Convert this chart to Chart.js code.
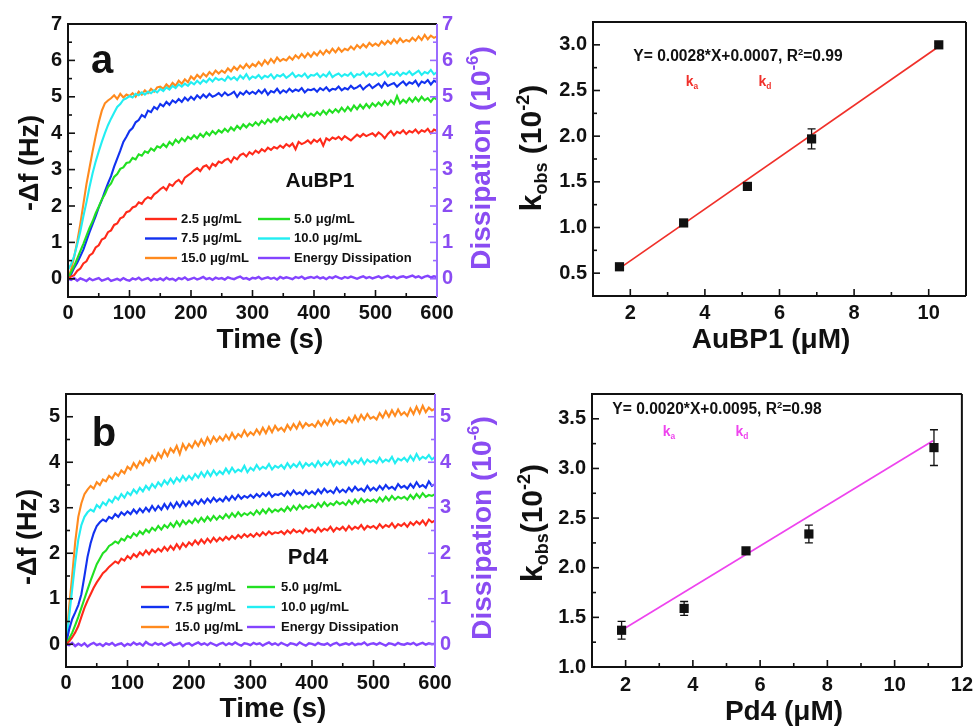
<!DOCTYPE html>
<html>
<head>
<meta charset="utf-8">
<script src="https://cdn.jsdelivr.net/npm/chart.js@4.4.0/dist/chart.umd.min.js"></script>
<style>
  body { margin: 0; background: #fff; width: 979px; height: 726px; overflow: hidden; position: relative; }
  canvas { position: absolute; }
</style>
</head>
<body>
<canvas id="kinA" width="500" height="360" style="left:0;top:0"></canvas>
<canvas id="kinB" width="500" height="356" style="left:0;top:370px"></canvas>
<canvas id="rateA" width="489" height="360" style="left:490px;top:0"></canvas>
<canvas id="rateB" width="489" height="356" style="left:490px;top:370px"></canvas>
<script>
// === Dados ===
const TIME_STEP = 5; // s, grade de amostragem (0..600)
const times = Array.from({length: 121}, (_, i) => i * TIME_STEP);

const concLabels = ["2.5 μg/mL", "5.0 μg/mL", "7.5 μg/mL", "10.0 μg/mL", "15.0 μg/mL", "Energy Dissipation"];
const timeTicks = [0, 100, 200, 300, 400, 500, 600];
const dfTicksA = [0, 1, 2, 3, 4, 5, 6, 7];
const dfTicksB = [0, 1, 2, 3, 4, 5];

// painel a (AuBP1), -Δf em Hz, a cada 5 s
const redA = [
  0.00,0.06,0.10,0.22,0.28,0.42,0.48,0.64,0.70,0.86,
  0.92,1.08,1.12,1.28,1.33,1.48,1.52,1.66,1.70,1.83,
  1.86,1.96,1.99,2.10,2.06,2.18,2.24,2.20,2.32,2.38,
  2.46,2.52,2.44,2.60,2.55,2.66,2.72,2.62,2.78,2.84,
  2.90,2.98,3.04,2.96,3.08,3.12,3.02,3.16,3.10,3.22,
  3.18,3.26,3.30,3.20,3.34,3.28,3.40,3.44,3.36,3.48,
  3.42,3.52,3.46,3.56,3.50,3.60,3.54,3.62,3.58,3.66,
  3.60,3.70,3.64,3.72,3.56,3.76,3.70,3.74,3.80,3.72,
  3.82,3.76,3.84,3.66,3.86,3.80,3.88,3.84,3.90,3.82,
  3.92,3.86,3.80,3.88,3.96,3.90,3.98,3.92,3.96,4.00,
  3.92,4.02,3.96,3.86,3.98,4.06,3.94,4.04,4.00,4.08,
  3.98,4.06,4.02,4.10,4.00,4.08,4.04,4.12,4.00,4.10,
  4.06];
const greenA = [
  0.00,0.18,0.35,0.55,0.76,0.96,1.18,1.40,1.58,1.80,
  1.98,2.18,2.32,2.52,2.62,2.80,2.88,3.02,3.06,3.18,
  3.20,3.32,3.28,3.42,3.38,3.50,3.46,3.58,3.52,3.64,
  3.60,3.70,3.62,3.76,3.68,3.82,3.74,3.86,3.78,3.90,
  3.84,3.94,3.86,3.98,3.90,4.02,3.94,4.06,3.98,4.08,
  4.02,4.12,4.04,4.16,4.08,4.20,4.12,4.24,4.16,4.26,
  4.20,4.30,4.22,4.34,4.26,4.38,4.30,4.40,4.32,4.44,
  4.36,4.46,4.38,4.50,4.40,4.52,4.44,4.56,4.46,4.54,
  4.48,4.58,4.50,4.62,4.52,4.64,4.56,4.66,4.58,4.70,
  4.60,4.72,4.62,4.76,4.66,4.78,4.68,4.80,4.70,4.82,
  4.74,4.84,4.76,4.88,4.78,4.90,4.80,5.02,4.82,4.92,
  4.84,4.96,4.86,4.98,4.88,5.00,4.90,4.96,4.86,4.98,
  4.92];
const blueA = [
  0.00,0.12,0.30,0.44,0.62,0.80,1.04,1.28,1.50,1.72,
  1.96,2.16,2.40,2.62,2.82,3.08,3.30,3.52,3.76,3.90,
  4.06,4.14,4.30,4.36,4.50,4.44,4.62,4.58,4.72,4.66,
  4.80,4.74,4.86,4.78,4.90,4.84,4.94,4.86,4.98,4.90,
  5.00,4.92,5.04,4.96,5.06,4.98,5.08,5.00,5.04,5.10,
  5.02,5.12,5.04,5.08,5.14,5.00,5.12,5.06,5.16,5.08,
  5.14,5.08,5.18,5.10,5.20,5.06,5.16,5.12,5.22,5.10,
  5.18,5.12,5.22,5.14,5.20,5.16,5.24,5.12,5.20,5.18,
  5.22,5.14,5.24,5.18,5.26,5.16,5.22,5.20,5.28,5.18,
  5.24,5.20,5.30,5.22,5.26,5.32,5.20,5.28,5.34,5.24,
  5.30,5.36,5.26,5.40,5.30,5.34,5.38,5.28,5.36,5.42,
  5.32,5.40,5.36,5.44,5.30,5.42,5.38,5.46,5.34,5.44,
  5.40];
const cyanA = [
  0.25,0.40,0.62,0.95,1.30,1.72,2.10,2.52,2.90,3.22,
  3.50,3.76,4.00,4.22,4.40,4.56,4.72,4.80,4.92,4.96,
  5.02,4.98,5.08,5.04,5.12,5.06,5.14,5.10,5.18,5.12,
  5.22,5.16,5.26,5.20,5.30,5.24,5.34,5.28,5.36,5.30,
  5.40,5.34,5.44,5.36,5.46,5.40,5.50,5.42,5.52,5.46,
  5.50,5.44,5.56,5.48,5.54,5.46,5.58,5.50,5.62,5.48,
  5.56,5.52,5.60,5.50,5.58,5.54,5.62,5.50,5.60,5.56,
  5.62,5.52,5.58,5.66,5.54,5.60,5.56,5.64,5.52,5.60,
  5.58,5.64,5.54,5.62,5.56,5.68,5.54,5.60,5.64,5.56,
  5.62,5.58,5.66,5.54,5.62,5.60,5.68,5.56,5.64,5.60,
  5.66,5.58,5.62,5.70,5.56,5.64,5.60,5.68,5.58,5.66,
  5.62,5.70,5.60,5.66,5.72,5.60,5.68,5.64,5.74,5.62,
  5.68];
const orangeA = [
  0.00,0.25,0.60,1.02,1.50,2.05,2.60,3.05,3.50,3.92,
  4.30,4.62,4.82,4.90,4.96,5.04,4.94,5.08,4.98,5.06,
  5.02,5.10,5.00,5.14,5.06,5.18,5.10,5.22,5.14,5.26,
  5.28,5.22,5.34,5.26,5.38,5.30,5.44,5.36,5.48,5.40,
  5.56,5.48,5.60,5.52,5.64,5.56,5.68,5.60,5.72,5.64,
  5.72,5.66,5.78,5.70,5.82,5.74,5.86,5.78,5.90,5.80,
  5.90,5.84,5.96,5.86,6.00,5.90,6.04,5.94,6.08,5.98,
  6.04,6.00,6.10,6.02,6.14,6.06,6.18,6.08,6.20,6.10,
  6.22,6.14,6.26,6.16,6.28,6.20,6.32,6.22,6.34,6.24,
  6.32,6.28,6.38,6.30,6.42,6.34,6.44,6.36,6.48,6.40,
  6.46,6.40,6.52,6.44,6.54,6.46,6.58,6.48,6.60,6.50,
  6.56,6.52,6.62,6.54,6.66,6.56,6.70,6.58,6.68,6.62,
  6.66];
const dissA = [ // 10^-6
  0.00,-0.03,0.02,-0.05,0.01,-0.02,-0.06,0.01,-0.04,-0.01,
  0.02,-0.05,-0.02,0.01,-0.06,-0.03,0.00,-0.04,0.02,-0.03,
  -0.05,0.01,-0.02,0.03,-0.04,-0.01,0.02,-0.05,0.00,-0.03,
  0.01,-0.04,0.03,-0.02,0.00,-0.05,0.02,-0.01,0.04,-0.03,
  0.00,0.03,-0.02,0.01,0.05,-0.01,0.02,-0.03,0.03,0.00,
  0.02,-0.02,0.04,0.01,-0.01,0.03,0.06,0.00,0.02,-0.02,
  0.03,0.01,0.05,-0.01,0.02,0.04,0.00,0.03,-0.02,0.05,
  0.01,0.04,0.02,-0.01,0.05,0.02,0.06,0.00,0.03,0.05,
  0.02,0.06,0.01,0.04,-0.01,0.05,0.02,0.07,0.03,0.00,
  0.05,0.02,0.06,0.03,0.00,0.04,0.07,0.02,0.05,0.01,
  0.04,0.07,0.02,0.05,0.08,0.03,0.06,0.01,0.05,0.07,
  0.03,0.06,0.09,0.04,0.07,0.02,0.06,0.08,0.04,0.07,
  0.05];

// painel b (Pd4)
const redB = [
  0.00,0.06,0.15,0.26,0.40,0.60,0.80,0.96,1.10,1.24,
  1.36,1.46,1.56,1.62,1.70,1.76,1.82,1.78,1.88,1.84,
  1.94,1.88,1.98,1.92,2.02,1.96,2.06,1.98,2.08,2.02,
  2.10,2.04,2.14,2.06,2.16,2.08,2.20,2.10,2.22,2.14,
  2.24,2.18,2.28,2.20,2.30,2.22,2.32,2.24,2.34,2.26,
  2.34,2.28,2.36,2.30,2.38,2.32,2.40,2.34,2.42,2.36,
  2.42,2.36,2.44,2.38,2.46,2.40,2.48,2.42,2.46,2.44,
  2.48,2.42,2.50,2.44,2.52,2.46,2.50,2.44,2.54,2.48,
  2.52,2.46,2.56,2.48,2.54,2.50,2.58,2.48,2.56,2.52,
  2.58,2.50,2.60,2.52,2.58,2.54,2.62,2.52,2.60,2.56,
  2.60,2.54,2.64,2.56,2.62,2.58,2.66,2.56,2.64,2.60,
  2.66,2.58,2.68,2.62,2.70,2.64,2.72,2.62,2.74,2.68,
  2.72];
const greenB = [
  0.00,0.12,0.25,0.42,0.60,0.80,1.00,1.20,1.40,1.58,
  1.76,1.88,2.00,2.06,2.16,2.20,2.26,2.22,2.32,2.28,
  2.38,2.34,2.44,2.38,2.48,2.42,2.52,2.46,2.56,2.50,
  2.60,2.52,2.62,2.56,2.66,2.58,2.70,2.60,2.72,2.64,
  2.72,2.66,2.76,2.68,2.78,2.70,2.80,2.72,2.82,2.74,
  2.82,2.76,2.86,2.78,2.88,2.80,2.90,2.82,2.88,2.84,
  2.90,2.84,2.94,2.86,2.96,2.88,2.98,2.90,2.96,2.92,
  2.98,2.92,3.02,2.94,3.04,2.96,3.06,2.98,3.04,3.00,
  3.06,3.00,3.10,3.02,3.12,3.04,3.10,3.06,3.14,3.08,
  3.12,3.06,3.16,3.08,3.18,3.10,3.20,3.12,3.18,3.14,
  3.18,3.12,3.22,3.14,3.24,3.16,3.26,3.18,3.24,3.20,
  3.24,3.18,3.28,3.20,3.30,3.22,3.32,3.24,3.28,3.26,
  3.30];
const blueB = [
  0.00,0.32,0.55,0.70,0.86,1.10,1.50,1.92,2.22,2.44,
  2.60,2.68,2.74,2.70,2.80,2.76,2.86,2.80,2.90,2.84,
  2.92,2.86,2.96,2.88,2.98,2.90,3.00,2.92,3.04,2.94,
  3.04,2.96,3.08,2.98,3.10,3.00,3.12,3.02,3.14,3.04,
  3.14,3.06,3.16,3.08,3.18,3.10,3.20,3.12,3.22,3.14,
  3.20,3.14,3.24,3.16,3.26,3.18,3.28,3.20,3.26,3.22,
  3.28,3.22,3.30,3.24,3.32,3.26,3.34,3.24,3.30,3.28,
  3.32,3.26,3.36,3.28,3.38,3.30,3.34,3.28,3.38,3.30,
  3.36,3.30,3.40,3.32,3.42,3.34,3.38,3.32,3.44,3.34,
  3.40,3.34,3.44,3.36,3.46,3.38,3.42,3.36,3.48,3.38,
  3.44,3.38,3.48,3.40,3.50,3.42,3.46,3.40,3.52,3.44,
  3.48,3.42,3.52,3.44,3.56,3.46,3.50,3.44,3.58,3.48,
  3.52];
const cyanB = [
  0.00,0.60,1.20,1.80,2.30,2.62,2.80,2.90,2.96,2.92,
  3.06,3.00,3.12,3.06,3.18,3.12,3.24,3.18,3.30,3.22,
  3.34,3.28,3.40,3.32,3.44,3.36,3.48,3.40,3.52,3.44,
  3.56,3.48,3.60,3.52,3.64,3.54,3.66,3.58,3.70,3.60,
  3.70,3.62,3.74,3.66,3.78,3.68,3.80,3.70,3.82,3.72,
  3.80,3.74,3.86,3.76,3.88,3.78,3.84,3.80,3.92,3.78,
  3.88,3.82,3.94,3.84,3.90,3.86,3.96,3.84,3.92,3.88,
  3.94,3.86,3.98,3.88,3.96,3.90,4.00,3.88,3.98,3.92,
  3.98,3.90,4.02,3.92,4.00,3.94,4.04,3.92,4.02,3.96,
  4.02,3.94,4.06,3.96,4.04,3.98,4.08,3.96,4.06,4.00,
  4.04,3.98,4.10,4.00,4.06,4.02,4.12,3.98,4.08,4.04,
  4.10,4.02,4.14,4.04,4.18,4.06,4.12,4.08,4.16,4.06,
  4.12];
const orangeB = [
  0.00,0.80,1.50,2.25,2.80,3.10,3.30,3.40,3.48,3.42,
  3.56,3.50,3.62,3.58,3.70,3.64,3.76,3.70,3.82,3.76,
  3.90,3.84,3.98,3.88,4.02,3.94,4.08,4.00,4.14,4.04,
  4.20,4.10,4.26,4.14,4.30,4.22,4.36,4.18,4.40,4.28,
  4.40,4.32,4.46,4.36,4.50,4.38,4.54,4.42,4.56,4.46,
  4.56,4.48,4.60,4.50,4.64,4.52,4.62,4.56,4.70,4.58,
  4.66,4.60,4.72,4.62,4.76,4.64,4.78,4.66,4.80,4.70,
  4.76,4.68,4.82,4.72,4.84,4.74,4.88,4.76,4.86,4.80,
  4.84,4.78,4.90,4.80,4.92,4.82,4.96,4.84,4.94,4.88,
  4.92,4.86,4.98,4.88,5.02,4.90,5.04,4.94,5.06,4.96,
  5.00,4.94,5.08,4.98,5.12,5.00,5.14,5.02,5.16,5.04,
  5.10,5.02,5.18,5.06,5.22,5.08,5.24,5.10,5.20,5.14,
  5.18];
const dissB = [
  0.00,-0.02,0.03,-0.04,0.01,-0.03,0.02,-0.05,0.00,0.03,
  -0.02,0.01,-0.04,0.02,-0.01,0.03,-0.03,0.00,0.02,-0.04,
  0.01,-0.02,0.04,-0.01,0.02,-0.03,0.05,0.00,-0.02,0.03,
  -0.01,0.02,-0.03,0.01,0.04,-0.02,0.00,0.03,-0.04,0.01,
  0.02,-0.03,0.01,0.04,-0.01,0.02,-0.02,0.03,0.00,-0.03,
  0.01,0.03,-0.02,0.02,-0.01,0.04,0.00,-0.03,0.02,0.01,
  -0.02,0.03,0.00,0.02,-0.03,0.01,0.04,-0.01,0.02,-0.02,
  0.03,0.00,-0.03,0.02,0.01,-0.02,0.04,0.00,-0.03,0.02,
  0.01,-0.02,0.03,0.00,-0.01,0.02,-0.03,0.01,0.03,-0.02,
  0.00,0.02,-0.01,0.03,-0.02,0.01,0.00,0.04,-0.02,0.01,
  0.02,-0.01,0.03,0.00,-0.03,0.02,0.01,-0.02,0.03,0.00,
  -0.01,0.02,0.00,0.03,-0.02,0.01,0.03,-0.01,0.02,0.00,
  0.01];

// kobs x concentração (μM), kobs em 10^-2
const concA = [1.71, 3.43, 5.14, 6.86, 10.27];
const kobsA = [0.57, 1.05, 1.45, 1.97, 3.00];
const kErrA = [0.02, 0.02, 0.02, 0.11, 0.02];
const fitXA = [1.70, 10.30];
const fitYA = [0.55, 2.99];
const concTicksA = [2, 4, 6, 8, 10];
const kTicksA = [0.5, 1.0, 1.5, 2.0, 2.5, 3.0];

const concB = [1.88, 3.74, 5.58, 7.45, 11.17];
const kobsB = [1.37, 1.59, 2.17, 2.34, 3.21];
const kErrB = [0.09, 0.07, 0.03, 0.09, 0.18];
const fitXB = [1.88, 11.14];
const fitYB = [1.37, 3.28];
const concTicksB = [2, 4, 6, 8, 10, 12];
const kTicksB = [1.0, 1.5, 2.0, 2.5, 3.0, 3.5];

// === Estilo ===
const FONT = '"Liberation Sans", Arial, sans-serif';
const lineColors = ["#ff2a1a", "#22e022", "#1232f0", "#22eef2", "#ff8a1e", "#8444ff"];
const PURPLE = "#8a4cf2";
const tickFont = {family: FONT, size: 20, weight: "bold"};

// texto com sub/sobrescrito
function drawRich(ctx, t){
  const size = t.size;
  const segs = t.parts.map(p => {
    const s = p[1] ? size * 0.6 : size;
    ctx.font = `bold ${s}px ${FONT}`;
    return {txt: p[0], k: p[1] || "", s, w: ctx.measureText(p[0]).width};
  });
  const total = segs.reduce((a, g) => a + g.w, 0);
  ctx.save();
  ctx.translate(t.x, t.y);
  if(t.rot) ctx.rotate(t.rot * Math.PI / 180);
  ctx.fillStyle = t.color || "#111";
  ctx.textBaseline = "middle";
  ctx.textAlign = "left";
  let x = -total / 2;
  segs.forEach(g => {
    ctx.font = `bold ${g.s}px ${FONT}`;
    const dy = g.k === "sub" ? size * 0.3 : g.k === "sup" ? -size * 0.3 : 0;
    ctx.fillText(g.txt, x, dy);
    x += g.w;
  });
  ctx.restore();
}

// === Plugin: moldura, ticks internos, barras de erro, legenda, textos ===
const deco = {
  id: "deco",
  afterDatasetsDraw(chart, args, o){
    const ctx = chart.ctx;
    if(!o.errorBars) return;
    const meta = chart.getDatasetMeta(0);
    const ds = chart.data.datasets[0];
    const ys = chart.scales.y;
    ctx.save();
    ctx.strokeStyle = "#111";
    ctx.lineWidth = 1.3;
    meta.data.forEach((pt, j) => {
      const v = ds.data[j].y, e = ds.errors[j];
      const y1 = ys.getPixelForValue(v - e), y2 = ys.getPixelForValue(v + e);
      ctx.beginPath();
      ctx.moveTo(pt.x, y1); ctx.lineTo(pt.x, y2);
      ctx.moveTo(pt.x - 4, y1); ctx.lineTo(pt.x + 4, y1);
      ctx.moveTo(pt.x - 4, y2); ctx.lineTo(pt.x + 4, y2);
      ctx.stroke();
    });
    ctx.restore();
  },
  afterDraw(chart, args, o){
    const ctx = chart.ctx, a = chart.chartArea;
    ctx.save();
    // ticks para dentro
    (o.ticks || []).forEach(t => {
      const s = chart.scales[t.axis];
      const vals = s.ticks.map(k => k.value);
      const step = vals[1] - vals[0];
      const minors = vals.map(v => v + step / 2).concat([vals[0] - step / 2]);
      ctx.strokeStyle = t.color;
      ctx.lineWidth = 1.6;
      const mark = (v, len) => {
        if(v < s.min - 1e-9 || v > s.max + 1e-9) return;
        const p = s.getPixelForValue(v);
        ctx.beginPath();
        if(t.side === "bottom"){ ctx.moveTo(p, a.bottom); ctx.lineTo(p, a.bottom - len); }
        else if(t.side === "left"){ ctx.moveTo(a.left, p); ctx.lineTo(a.left + len, p); }
        else { ctx.moveTo(a.right, p); ctx.lineTo(a.right - len, p); }
        ctx.stroke();
      };
      vals.forEach(v => mark(v, 7));
      minors.forEach(v => mark(v, 4));
    });
    // moldura
    ctx.lineWidth = 2;
    ctx.strokeStyle = "#111";
    ctx.beginPath();
    ctx.moveTo(a.right, a.top); ctx.lineTo(a.left, a.top);
    ctx.lineTo(a.left, a.bottom); ctx.lineTo(a.right, a.bottom);
    ctx.stroke();
    ctx.strokeStyle = o.rightColor || "#111";
    ctx.beginPath();
    ctx.moveTo(a.right, a.top); ctx.lineTo(a.right, a.bottom);
    ctx.stroke();
    // legenda
    if(o.legend){
      const L = o.legend;
      chart.data.datasets.forEach((ds, i) => {
        const x0 = L.x + (i % 2) * L.colW, y = L.y + Math.floor(i / 2) * L.rowH;
        ctx.strokeStyle = ds.borderColor;
        ctx.lineWidth = 2.4;
        ctx.beginPath(); ctx.moveTo(x0, y); ctx.lineTo(x0 + L.len, y); ctx.stroke();
        ctx.fillStyle = "#111";
        ctx.font = `bold ${L.size}px ${FONT}`;
        ctx.textBaseline = "middle";
        ctx.textAlign = "left";
        ctx.fillText(ds.label, x0 + L.len + L.gap, y);
      });
    }
    ctx.restore();
    (o.texts || []).forEach(t => drawRich(ctx, t));
  }
};
Chart.register(deco);

function kineticsChart(id, sets, yMin, yMax, dfTicks, box, decoOpts){
  return new Chart(document.getElementById(id), {
    type: "line",
    data: {
      datasets: sets.map((s, i) => ({
        label: concLabels[i],
        data: times.map((t, j) => ({x: t, y: s[j]})),
        borderColor: lineColors[i],
        borderWidth: i === 5 ? 2.4 : 2.1,
        pointRadius: 0,
        tension: 0,
        yAxisID: i === 5 ? "y2" : "y"
      }))
    },
    options: {
      responsive: false, animation: false, events: [],
      layout: {padding: {left: 0, top: box.top, right: 0, bottom: 0}},
      plugins: {legend: {display: false}, tooltip: {enabled: false}, deco: decoOpts},
      scales: {
        x: {
          type: "linear", min: 0, max: 600,
          afterBuildTicks: s => { s.ticks = timeTicks.map(v => ({value: v})); },
          ticks: {font: tickFont, color: "#111", padding: box.xPad, maxRotation: 0, autoSkip: false},
          grid: {display: false, drawTicks: false}, border: {display: false},
          afterFit: s => { s.height = box.xh; }
        },
        y: {
          position: "left", min: yMin, max: yMax,
          afterBuildTicks: s => { s.ticks = dfTicks.map(v => ({value: v})); },
          ticks: {font: tickFont, color: "#111", padding: 6, autoSkip: false},
          grid: {display: false, drawTicks: false}, border: {display: false},
          afterFit: s => { s.width = box.yw; }
        },
        y2: {
          position: "right", min: yMin, max: yMax,
          afterBuildTicks: s => { s.ticks = dfTicks.map(v => ({value: v})); },
          ticks: {font: tickFont, color: PURPLE, padding: 5, autoSkip: false},
          grid: {display: false, drawTicks: false}, border: {display: false},
          afterFit: s => { s.width = box.y2w; }
        }
      }
    }
  });
}

function rateChart(id, cfg){
  return new Chart(document.getElementById(id), {
    type: "scatter",
    data: {
      datasets: [
        {
          data: cfg.xs.map((x, j) => ({x, y: cfg.ys[j]})),
          errors: cfg.errs,
          pointStyle: "rect", pointRadius: 6.5,
          backgroundColor: "#111", borderColor: "#111", borderWidth: 0
        },
        {
          data: cfg.fitX.map((x, j) => ({x, y: cfg.fitY[j]})),
          showLine: true, borderColor: cfg.fitColor, borderWidth: 1.7, pointRadius: 0
        }
      ]
    },
    options: {
      responsive: false, animation: false, events: [],
      layout: {padding: {left: 0, top: cfg.box.top, right: cfg.box.right, bottom: 0}},
      plugins: {legend: {display: false}, tooltip: {enabled: false}, deco: cfg.deco},
      scales: {
        x: {
          type: "linear", min: cfg.xMin, max: cfg.xMax,
          afterBuildTicks: s => { s.ticks = cfg.xTicks.map(v => ({value: v})); },
          ticks: {font: tickFont, color: "#111", padding: cfg.box.xPad, maxRotation: 0, autoSkip: false},
          grid: {display: false, drawTicks: false}, border: {display: false},
          afterFit: s => { s.height = cfg.box.xh; }
        },
        y: {
          min: cfg.yMin, max: cfg.yMax,
          afterBuildTicks: s => { s.ticks = cfg.yTicks.map(v => ({value: v})); },
          ticks: {font: tickFont, color: "#111", padding: 6, autoSkip: false, callback: v => v.toFixed(1)},
          grid: {display: false, drawTicks: false}, border: {display: false},
          afterFit: s => { s.width = cfg.box.yw; }
        }
      }
    }
  });
}

const kinTicks = [
  {axis: "x", side: "bottom", color: "#111"},
  {axis: "y", side: "left", color: "#111"},
  {axis: "y2", side: "right", color: "#9a6cff"}
];
const rateTicks = [
  {axis: "x", side: "bottom", color: "#111"},
  {axis: "y", side: "left", color: "#111"}
];
const dissTitle = [["Dissipation (10"], ["-6", "sup"], [")"]];

kineticsChart("kinA", [redA, greenA, blueA, cyanA, orangeA, dissA], -0.5, 7, dfTicksA,
  {top: 24, yw: 68, y2w: 63, xh: 63, xPad: 4},
  {
    ticks: kinTicks, rightColor: "#9a6cff",
    legend: {x: 145, y: 219, colW: 113, rowH: 19.5, len: 32, gap: 4, size: 13},
    texts: [
      {parts: [["-Δf (Hz)"]], x: 31, y: 163, size: 27, rot: -90},
      {parts: dissTitle, x: 482, y: 158, size: 28, rot: -90, color: PURPLE},
      {parts: [["Time (s)"]], x: 270, y: 340, size: 28},
      {parts: [["a"]], x: 102, y: 62, size: 40},
      {parts: [["AuBP1"]], x: 320, y: 181, size: 21}
    ]
  });

kineticsChart("kinB", [redB, greenB, blueB, cyanB, orangeB, dissB], -0.5, 5.5, dfTicksB,
  {top: 24, yw: 66, y2w: 65, xh: 59, xPad: 4},
  {
    ticks: kinTicks, rightColor: "#9a6cff",
    legend: {x: 141, y: 217, colW: 106, rowH: 20, len: 28, gap: 6, size: 13},
    texts: [
      {parts: [["-Δf (Hz)"]], x: 29, y: 167, size: 27, rot: -90},
      {parts: dissTitle, x: 483, y: 158, size: 28, rot: -90, color: PURPLE},
      {parts: [["Time (s)"]], x: 273, y: 339, size: 28},
      {parts: [["b"]], x: 104, y: 65, size: 40},
      {parts: [["Pd4"]], x: 308, y: 188, size: 22}
    ]
  });

rateChart("rateA", {
  xs: concA, ys: kobsA, errs: kErrA, fitX: fitXA, fitY: fitYA, fitColor: "#f0302a",
  xMin: 1, xMax: 11, xTicks: concTicksA, yMin: 0.25, yMax: 3.25, yTicks: kTicksA,
  box: {top: 22, right: 13, yw: 103, xh: 64, xPad: 5},
  deco: {
    errorBars: true, ticks: rateTicks,
    texts: [
      {parts: [["k"], ["obs", "sub"], [" (10"], ["-2", "sup"], [")"]], x: 43, y: 148, size: 30, rot: -90},
      {parts: [["AuBP1 (μM)"]], x: 281, y: 340, size: 28},
      {parts: [["Y= 0.0028*X+0.0007, R"], ["2", "sup"], ["=0.99"]], x: 248, y: 57, size: 15.6},
      {parts: [["k"], ["a", "sub"]], x: 202, y: 82, size: 14, color: "#f0302a"},
      {parts: [["k"], ["d", "sub"]], x: 275, y: 82, size: 14, color: "#f0302a"}
    ]
  }
});

rateChart("rateB", {
  xs: concB, ys: kobsB, errs: kErrB, fitX: fitXB, fitY: fitYB, fitColor: "#ee44ee",
  xMin: 1, xMax: 12, xTicks: concTicksB, yMin: 1.0, yMax: 3.75, yTicks: kTicksB,
  box: {top: 24, right: 15, yw: 102, xh: 59, xPad: 6},
  deco: {
    errorBars: true, ticks: rateTicks,
    texts: [
      {parts: [["k"], ["obs", "sub"], ["(10"], ["-2", "sup"], [")"]], x: 44, y: 153, size: 30, rot: -90},
      {parts: [["Pd4 (μM)"]], x: 294, y: 342, size: 28},
      {parts: [["Y= 0.0020*X+0.0095, R"], ["2", "sup"], ["=0.98"]], x: 227, y: 40, size: 15.6},
      {parts: [["k"], ["a", "sub"]], x: 179, y: 62, size: 14, color: "#ee44ee"},
      {parts: [["k"], ["d", "sub"]], x: 252, y: 62, size: 14, color: "#ee44ee"}
    ]
  }
});
</script>
</body>
</html>
